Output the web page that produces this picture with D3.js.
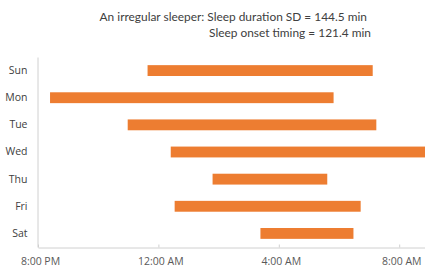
<!DOCTYPE html>
<html><head><meta charset="utf-8">
<script src="https://cdn.jsdelivr.net/npm/d3@7"></script>
<style>html,body{margin:0;padding:0;background:#fff;}svg{display:block;}</style>
</head><body>
<script>
// Data: hours after 8:00 PM
const days = ["Sun","Mon","Tue","Wed","Thu","Fri","Sat"];
const onset = [3.64, 0.40, 2.98, 4.41, 5.80, 4.54, 7.39];
const wake = [11.12, 9.82, 11.24, 13.2, 9.61, 10.72, 10.48];
const tickHours = [0, 4, 8, 12];
const tickLabels = ["8:00 PM", "12:00 AM", "4:00 AM", "8:00 AM"];
const titleLines = ["An irregular sleeper: Sleep duration SD = 144.5 min", "Sleep onset timing = 121.4 min"];

const W = 425, H = 267;
const svg = d3.select("body").append("svg").attr("width", W).attr("height", H);
const font = "'Open Sans', 'Noto Sans', sans-serif";
const tfont = "Lato, 'Open Sans', sans-serif";

const x = d3.scaleLinear().domain([0, 13]).range([38, 429.3]);
const y = d3.scaleBand().domain(days).range([57, 247]).paddingInner(0.6).paddingOuter(0.3);

// bars
svg.selectAll("rect.bar").data(days).join("rect")
  .attr("x", (d, i) => x(onset[i]))
  .attr("width", (d, i) => x(wake[i]) - x(onset[i]))
  .attr("y", d => y(d))
  .attr("height", y.bandwidth())
  .attr("fill", "#ED7D31");

// x axis
const xAxis = d3.axisBottom(x).tickValues(tickHours).tickFormat((d, i) => tickLabels[i]).tickSizeInner(-3).tickSizeOuter(0).tickPadding(10);
const gx = svg.append("g").attr("transform", "translate(0,247.5)").call(xAxis);
gx.select(".domain").attr("stroke", "#d0d0d0");
gx.selectAll(".tick line").attr("stroke", "#d0d0d0");
gx.selectAll(".tick text").attr("font-family", font).attr("font-size", 10.5).attr("fill", "#595959").attr("dx", 2);

// y axis
const yAxis = d3.axisLeft(y).tickSize(0).tickPadding(10);
const gy = svg.append("g").attr("transform", "translate(37.5,0)").call(yAxis);
gy.select(".domain").attr("stroke", "#d0d0d0");
gy.selectAll(".tick text").attr("font-family", font).attr("font-size", 10.5).attr("fill", "#404040");

// title
svg.append("text").attr("x", 367).attr("y", 21).attr("text-anchor", "end")
  .attr("font-family", tfont).attr("font-size", 11.9).attr("fill", "#404040").text(titleLines[0]);
svg.append("text").attr("x", 371).attr("y", 37).attr("text-anchor", "end")
  .attr("font-family", tfont).attr("font-size", 11.9).attr("fill", "#404040").text(titleLines[1]);
</script>
</body></html>
